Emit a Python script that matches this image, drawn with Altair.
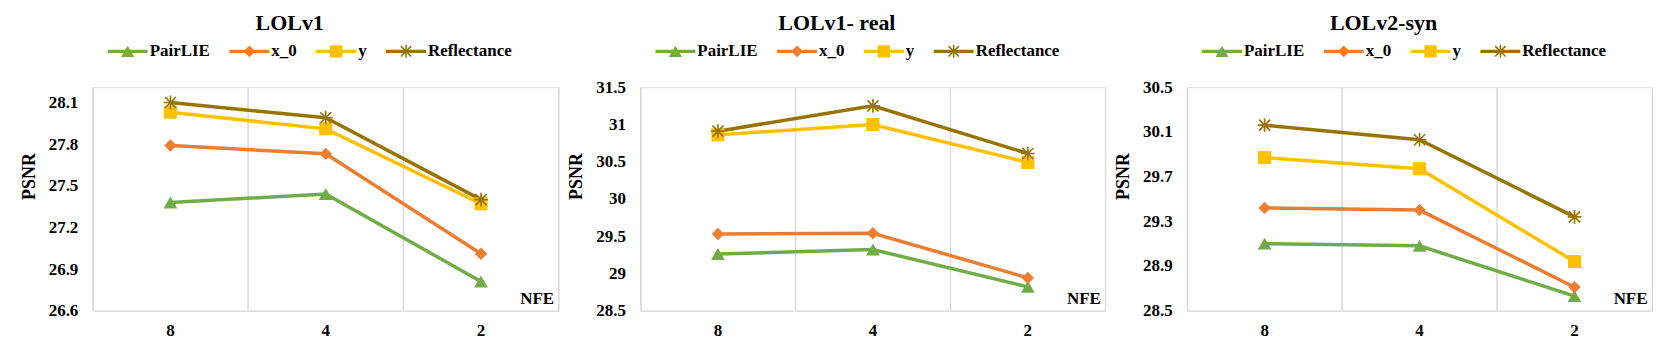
import math
import altair as alt
import pandas as pd

# ---------------- data ----------------
nfe_labels = ["8", "4", "2"]
series_names = ["PairLIE", "x_0", "y", "Reflectance"]
series_colors = ["#70AD47", "#ED7D31", "#FFC000", "#997300"]

panel_titles = ["LOLv1", "LOLv1- real", "LOLv2-syn"]

lolv1_pairlie = [27.38, 27.44, 26.81]
lolv1_x0 = [27.79, 27.73, 27.01]
lolv1_y = [28.03, 27.91, 27.37]
lolv1_refl = [28.10, 27.99, 27.40]

real_pairlie = [29.26, 29.32, 28.82]
real_x0 = [29.53, 29.54, 28.94]
real_y = [30.86, 31.00, 30.49]
real_refl = [30.91, 31.25, 30.61]

syn_pairlie = [29.10, 29.08, 28.63]
syn_x0 = [29.42, 29.40, 28.71]
syn_y = [29.87, 29.77, 28.94]
syn_refl = [30.16, 30.03, 29.34]

y_domains = [[26.6, 28.21], [28.5, 31.5], [28.5, 30.5]]
y_ticks = [
    [26.6, 26.9, 27.2, 27.5, 27.8, 28.1],
    [28.5, 29, 29.5, 30, 30.5, 31, 31.5],
    [28.5, 28.9, 29.3, 29.7, 30.1, 30.5],
]

panel_values = [
    [lolv1_pairlie, lolv1_x0, lolv1_y, lolv1_refl],
    [real_pairlie, real_x0, real_y, real_refl],
    [syn_pairlie, syn_x0, syn_y, syn_refl],
]

# ---------------- symbol paths (unit coords) ----------------
def poly(pts, k=1.0):
    pts = [(x * k, y * k) for x, y in pts]
    n = len(pts)
    s = sum(pts[i][0] * pts[(i + 1) % n][1] - pts[(i + 1) % n][0] * pts[i][1] for i in range(n))
    if s < 0:
        pts = pts[::-1]
    return "M" + "L".join(f"{x:.4f},{y:.4f}" for x, y in pts) + "Z"


def bar(x1, y1, x2, y2, t, k=1.0):
    dx, dy = x2 - x1, y2 - y1
    L = math.hypot(dx, dy)
    nx, ny = -dy / L * t, dx / L * t
    return poly([(x1 + nx, y1 + ny), (x2 + nx, y2 + ny), (x2 - nx, y2 - ny), (x1 - nx, y1 - ny)], k)


def markers(k):
    tri = poly([(0, -0.87), (1.0, 0.87), (-1.0, 0.87)], k)
    dia = poly([(-0.9, 0), (0, -0.9), (0.9, 0), (0, 0.9)], k)
    sqr = poly([(-0.95, -0.95), (0.95, -0.95), (0.95, 0.95), (-0.95, 0.95)], k)
    ast = (bar(0, -1, 0, 1, 0.12, k) + bar(-0.8, -0.8, 0.8, 0.8, 0.12, k)
           + bar(-0.8, 0.8, 0.8, -0.8, 0.12, k) + bar(-1, 0, 1, 0, 0.12, k))
    return [tri, dia, sqr, ast]


MARK_SIZE = 190            # marker box ~13.8 px
LEG_SIZE = 1600            # legend symbol box 40 px (line length)
marker_paths = markers(1.0)
leg_k = 13.0 / 40.0
legend_line = bar(-1, 0, 1, 0, 1.6 / 20)
legend_paths = [legend_line + m for m in markers(leg_k)]

FONT = "Liberation Serif"
GRID = "#D9D9D9"
color_scale = alt.Scale(domain=series_names, range=series_colors)
widths = [467, 466, 466]
H = 224


def make_panel(i):
    rows = []
    for s, vals in zip(series_names, panel_values[i]):
        for n, v in zip(nfe_labels, vals):
            rows.append({"series": s, "nfe": n, "value": v})
    df = pd.DataFrame(rows)
    grid_df = pd.DataFrame({"nfe": nfe_labels})
    W = widths[i]

    x_axis = alt.Axis(
        title="NFE", titleX=W - 5, titleY=-7, titleAlign="right", titleBaseline="alphabetic",
        titleFont=FONT, titleFontSize=17, titleFontWeight="bold", titleColor="black",
        labelFont=FONT, labelFontSize=17, labelFontWeight="bold", labelColor="black",
        labelPadding=12, labelAngle=0, ticks=False, tickSize=0, grid=False,
        domainColor=GRID, domainWidth=1,
    )
    x_scale = alt.Scale(type="band", paddingInner=0, paddingOuter=0)
    x = alt.X("nfe:N", sort=nfe_labels, scale=x_scale, axis=x_axis)
    y = alt.Y(
        "value:Q",
        scale=alt.Scale(domain=y_domains[i], nice=False, zero=False),
        axis=alt.Axis(
            values=y_ticks[i], format=".1~f", title="PSNR",
            titleFont=FONT, titleFontSize=18, titleFontWeight="bold", titleColor="black",
            titlePadding=10, titleY=89,
            labelFont=FONT, labelFontSize=17, labelFontWeight="bold", labelColor="black",
            labelPadding=15, ticks=False, tickSize=0, grid=False,
            domainColor=GRID, domainWidth=1,
        ),
    )

    layers = []
    legend = alt.Legend(
        orient="none", legendX=15, legendY=-56, direction="horizontal", columns=4,
        title=None, labelFont=FONT, labelFontSize=17, labelFontWeight="bold",
        labelColor="black", symbolSize=LEG_SIZE, symbolStrokeWidth=0, labelOffset=2,
        columnPadding=19, padding=0,
    )
    carrier = (
        alt.Chart(df).transform_filter("false")
        .mark_point(filled=True, opacity=1, strokeWidth=0)
        .encode(
            x=x, y=y,
            color=alt.Color("series:N", scale=color_scale, legend=legend),
            shape=alt.Shape("series:N", scale=alt.Scale(domain=series_names, range=legend_paths), legend=legend),
        )
    )
    layers.append(carrier)
    for bp in (0, 1):
        layers.append(
            alt.Chart(grid_df).mark_rule(color=GRID, strokeWidth=1).encode(
                x=alt.X("nfe:N", sort=nfe_labels, scale=x_scale, axis=x_axis, bandPosition=bp)
            )
        )
    for s, c in zip(series_names, series_colors):
        layers.append(
            alt.Chart(df).transform_filter(alt.datum.series == s)
            .mark_line(strokeWidth=3.5, color=c).encode(x=x, y=y)
        )
    for s, c, path in zip(series_names, series_colors, marker_paths):
        layers.append(
            alt.Chart(df).transform_filter(alt.datum.series == s)
            .mark_point(shape=path, filled=True, opacity=1, size=MARK_SIZE, strokeWidth=0, color=c)
            .encode(x=x, y=y)
        )
    return alt.layer(*layers).properties(
        width=W, height=H,
        title=alt.TitleParams(
            panel_titles[i], font=FONT, fontSize=22, fontWeight="bold", color="black",
            anchor="middle", frame="bounds", offset=-4,
        ),
    )


chart = (
    alt.hconcat(*[make_panel(i) for i in range(3)], spacing=7)
    .resolve_scale(color="independent", shape="independent", y="independent", x="independent")
    .properties(padding={"left": 11, "top": 3, "right": 0, "bottom": 0})
    .configure_view(stroke=None)
    .configure(background="white")
)

chart.save("out.html", embed_options={"renderer": "svg", "actions": False})
